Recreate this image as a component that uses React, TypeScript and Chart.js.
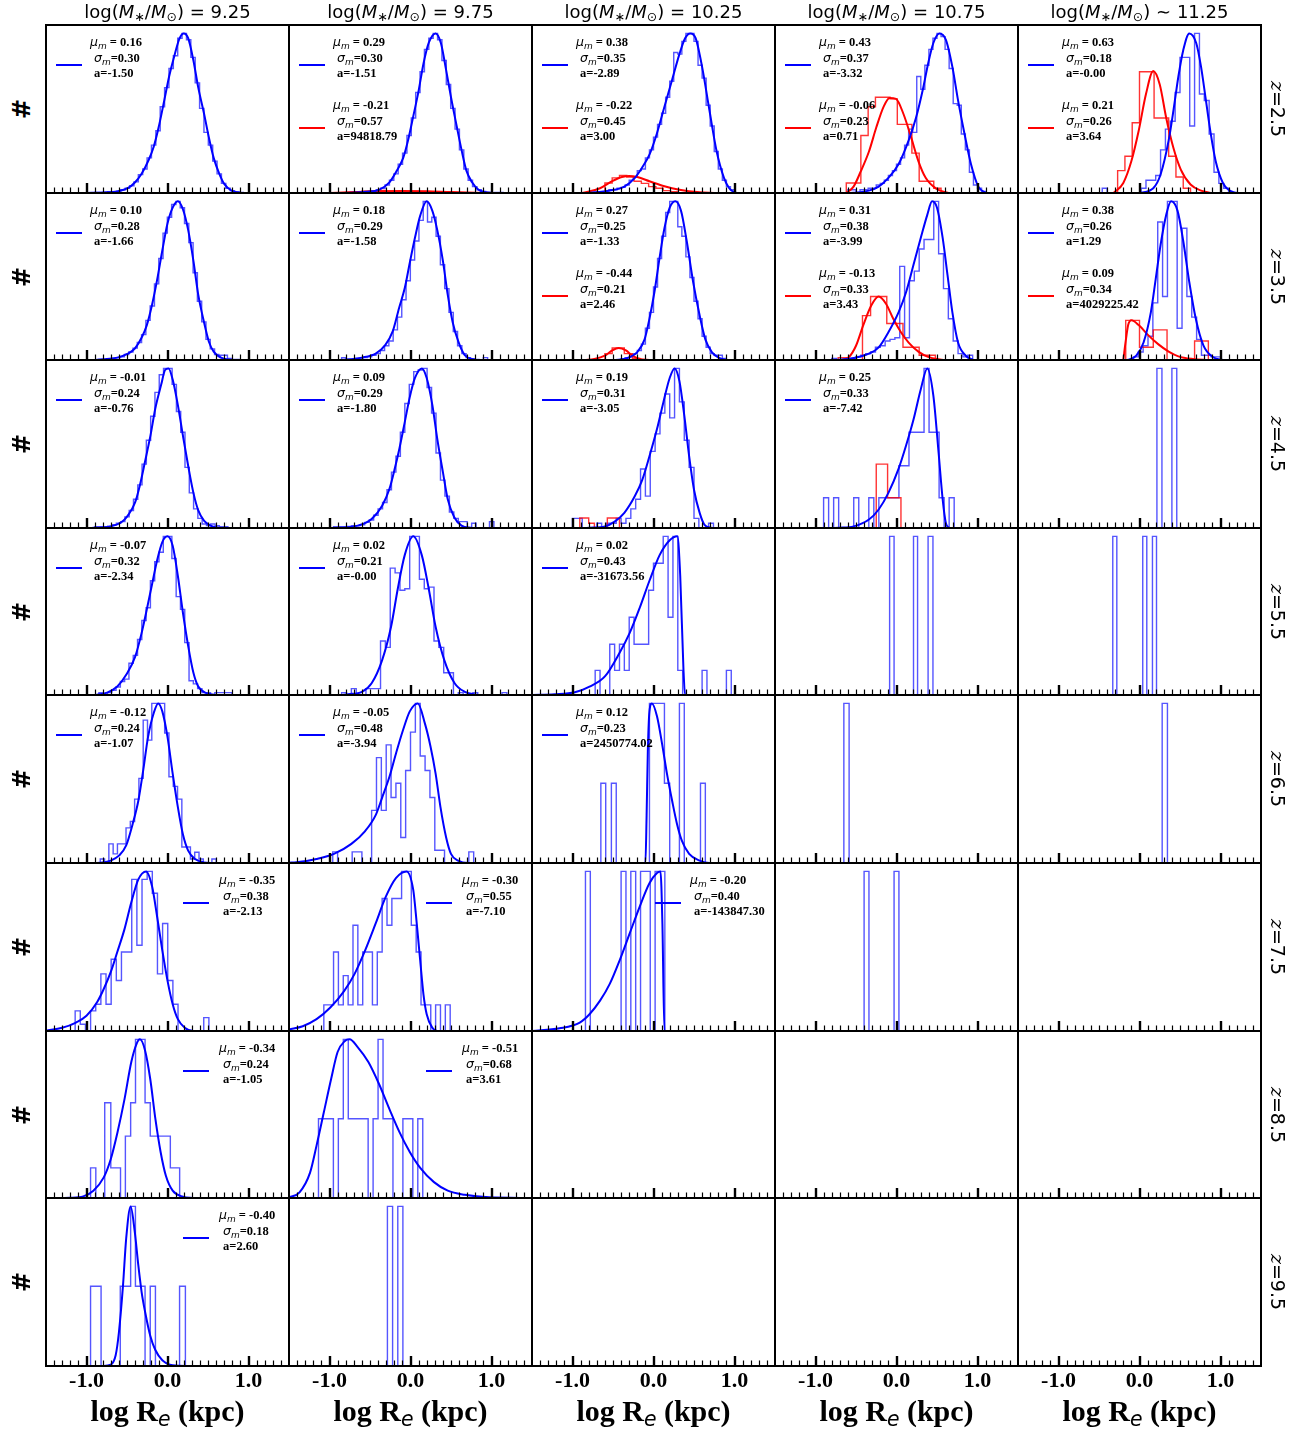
import React, { useEffect, useRef } from 'react';
import { Chart, registerables } from 'chart.js';
Chart.register(...registerables);

type Pt = [number, number];
type Hist = { x0?: number; dx?: number; edges?: number[]; n: number[] };
type Series = { hist?: Hist; fit?: Pt[]; label?: string[] };
type PanelCfg = { blue?: Series; red?: Series; side?: 'left' | 'right' | 'mid' };

// ---------- axes / labels ----------
const xMajorTicks = [-1, 0, 1];
const xMinorTicks = [-1.4, -1.3, -1.2, -1.1, -0.9, -0.8, -0.7, -0.6, -0.5, -0.4, -0.3, -0.2, -0.1, 0.1, 0.2, 0.3, 0.4, 0.5, 0.6, 0.7, 0.8, 0.9, 1.1, 1.2, 1.3, 1.4];
const xTickLabels = ['-1.0', '0.0', '1.0'];
const massBins = ['9.25', '9.75', '10.25', '10.75', '11.25'];
const massRel = ['=', '=', '=', '=', '∼'];
const redshifts = ['2.5', '3.5', '4.5', '5.5', '6.5', '7.5', '8.5', '9.5'];

// ---------- z = 2.5 ----------
const hist_r1c1: Hist = { x0: -0.9, dx: 0.054, n: [0.004, 0, 0.004, 0.008, 0.008, 0.012, 0.02, 0.03, 0.045, 0.07, 0.115, 0.15, 0.22, 0.3, 0.39, 0.54, 0.66, 0.78, 0.86, 0.97, 1.0, 0.96, 0.85, 0.69, 0.53, 0.38, 0.3, 0.2, 0.12, 0.06, 0.03, 0.015, 0.008, 0.004, 0] };
const fit_r1c1: Pt[] = [[-1.0, 0], [-0.8, 0.003], [-0.62, 0.01], [-0.49, 0.03], [-0.4, 0.067], [-0.32, 0.12], [-0.23, 0.21], [-0.17, 0.29], [-0.11, 0.41], [-0.04, 0.58], [0.02, 0.73], [0.085, 0.86], [0.15, 0.97], [0.2, 1.0], [0.255, 0.97], [0.32, 0.83], [0.38, 0.66], [0.45, 0.5], [0.51, 0.35], [0.57, 0.22], [0.64, 0.12], [0.7, 0.057], [0.79, 0.015], [0.91, 0]];
const leg_r1c1 = ['0.16', '0.30', '-1.50'];

const hist_r1c2: Hist = { x0: -0.8, dx: 0.054, n: [0.004, 0, 0.004, 0.004, 0.008, 0.01, 0.012, 0.02, 0.03, 0.05, 0.08, 0.12, 0.18, 0.25, 0.36, 0.47, 0.63, 0.76, 0.9, 0.97, 1.0, 0.96, 0.83, 0.68, 0.53, 0.4, 0.27, 0.15, 0.08, 0.04, 0.02, 0.01, 0.006, 0, 0.004, 0.004] };
const fit_r1c2: Pt[] = [[-0.9, 0], [-0.73, 0.002], [-0.55, 0.008], [-0.39, 0.02], [-0.26, 0.067], [-0.18, 0.13], [-0.09, 0.22], [-0.03, 0.33], [0.034, 0.48], [0.1, 0.64], [0.16, 0.81], [0.225, 0.94], [0.31, 1.0], [0.375, 0.94], [0.44, 0.77], [0.5, 0.6], [0.57, 0.42], [0.63, 0.27], [0.69, 0.14], [0.76, 0.067], [0.84, 0.02], [0.97, 0]];
const leg_r1c2 = ['0.29', '0.30', '-1.51'];
const histRed_r1c2: Hist = { x0: -0.7, dx: 0.1, n: [0.008, 0.012, 0.012, 0.016, 0.012, 0.012, 0.008, 0.008, 0.004, 0.004] };
const fitRed_r1c2: Pt[] = [[-1.0, 0], [-0.7, 0.006], [-0.4, 0.011], [-0.1, 0.013], [0.2, 0.011], [0.5, 0.006], [0.8, 0.002], [1.1, 0]];
const legRed_r1c2 = ['-0.21', '0.57', '94818.79'];

const hist_r1c3: Hist = { x0: -0.75, dx: 0.05, n: [0, 0.008, 0.008, 0.012, 0.02, 0.02, 0.03, 0.035, 0.05, 0.08, 0.1, 0.14, 0.15, 0.22, 0.27, 0.35, 0.43, 0.5, 0.6, 0.7, 0.88, 0.87, 0.95, 1.0, 1.0, 0.95, 0.8, 0.72, 0.55, 0.42, 0.26, 0.15, 0.08, 0.04, 0.02] };
const fit_r1c3: Pt[] = [[-0.8, 0], [-0.73, 0.004], [-0.54, 0.015], [-0.36, 0.04], [-0.23, 0.095], [-0.14, 0.16], [-0.05, 0.24], [0.04, 0.37], [0.135, 0.54], [0.23, 0.71], [0.32, 0.87], [0.39, 0.97], [0.455, 1.0], [0.52, 0.97], [0.6, 0.79], [0.69, 0.52], [0.78, 0.26], [0.87, 0.095], [0.935, 0.03], [1.0, 0.004], [1.05, 0]];
const leg_r1c3 = ['0.38', '0.35', '-2.89'];
const histRed_r1c3: Hist = { x0: -0.6, dx: 0.09, n: [0.063, 0.095, 0.11, 0.1, 0.074, 0.06, 0.04, 0.03, 0.015, 0.008] };
const fitRed_r1c3: Pt[] = [[-0.88, 0], [-0.66, 0.03], [-0.51, 0.074], [-0.39, 0.1], [-0.3, 0.107], [-0.2, 0.1], [-0.05, 0.074], [0.135, 0.042], [0.32, 0.02], [0.57, 0.004], [0.75, 0]];
const legRed_r1c3 = ['-0.22', '0.45', '3.00'];

const hist_r1c4: Hist = { x0: -0.6, dx: 0.05, n: [0.02, 0.02, 0, 0.02, 0.02, 0.03, 0.03, 0.05, 0.06, 0.08, 0.11, 0.14, 0.18, 0.22, 0.3, 0.4, 0.38, 0.73, 0.65, 0.8, 0.9, 0.97, 1.0, 0.98, 0.9, 0.78, 0.56, 0.55, 0.37, 0.27, 0.13, 0.05, 0.03, 0.01] };
const fit_r1c4: Pt[] = [[-0.6, 0], [-0.53, 0.002], [-0.34, 0.015], [-0.22, 0.04], [-0.1, 0.095], [0.025, 0.18], [0.15, 0.33], [0.24, 0.47], [0.33, 0.66], [0.39, 0.81], [0.455, 0.94], [0.53, 1.0], [0.61, 0.96], [0.69, 0.79], [0.76, 0.58], [0.84, 0.37], [0.92, 0.18], [1.01, 0.04], [1.1, 0]];
const leg_r1c4 = ['0.43', '0.37', '-3.32'];
const histRed_r1c4: Hist = { x0: -0.62, dx: 0.09, n: [0.063, 0.063, 0.36, 0.54, 0.6, 0.6, 0.59, 0.43, 0.43, 0.25, 0.074, 0.074, 0.03] };
const fitRed_r1c4: Pt[] = [[-0.62, 0], [-0.53, 0.04], [-0.44, 0.137], [-0.34, 0.26], [-0.25, 0.41], [-0.16, 0.54], [-0.086, 0.596], [-0.006, 0.59], [0.086, 0.495], [0.18, 0.35], [0.27, 0.2], [0.36, 0.095], [0.49, 0.027], [0.64, 0]];
const legRed_r1c4 = ['-0.06', '0.23', '0.71'];

const hist_r1c5: Hist = { x0: -0.46, dx: 0.06, n: [0.03, 0, 0, 0, 0, 0, 0, 0, 0.03, 0.08, 0.08, 0.11, 0.27, 0.4, 0.45, 0.63, 0.85, 0.85, 0.42, 1.0, 0.62, 0.58, 0.37, 0.13, 0.06, 0.03] };
const fit_r1c5: Pt[] = [[0.0, 0], [0.17, 0.03], [0.26, 0.116], [0.36, 0.33], [0.42, 0.52], [0.48, 0.73], [0.54, 0.895], [0.615, 1.0], [0.7, 0.94], [0.76, 0.79], [0.82, 0.58], [0.88, 0.37], [0.94, 0.2], [1.03, 0.063], [1.16, 0.005], [1.25, 0]];
const leg_r1c5 = ['0.63', '0.18', '-0.00'];
const histRed_r1c5: Hist = { x0: -0.27, dx: 0.09, n: [0.14, 0.23, 0.44, 0.76, 0.76, 0.47, 0.47, 0.23, 0.1, 0.03] };
const fitRed_r1c5: Pt[] = [[-0.32, 0], [-0.2, 0.063], [-0.1, 0.2], [-0.01, 0.39], [0.08, 0.62], [0.17, 0.764], [0.25, 0.68], [0.33, 0.47], [0.42, 0.28], [0.51, 0.147], [0.63, 0.053], [0.76, 0.015], [0.88, 0]];
const legRed_r1c5 = ['0.21', '0.26', '3.64'];

// ---------- z = 3.5 ----------
const hist_r2c1: Hist = { x0: -0.85, dx: 0.053, n: [0.004, 0.004, 0.008, 0.012, 0.015, 0.02, 0.035, 0.05, 0.075, 0.11, 0.16, 0.25, 0.34, 0.48, 0.64, 0.8, 0.9, 0.98, 1.0, 0.96, 0.86, 0.74, 0.55, 0.37, 0.24, 0.13, 0.07, 0.035, 0.03, 0.03, 0.01, 0.004, 0.004] };
const fit_r2c1: Pt[] = [[-0.9, 0], [-0.79, 0.004], [-0.62, 0.015], [-0.49, 0.04], [-0.4, 0.074], [-0.32, 0.14], [-0.255, 0.22], [-0.19, 0.35], [-0.13, 0.5], [-0.064, 0.69], [0, 0.86], [0.064, 0.96], [0.128, 1.0], [0.19, 0.95], [0.255, 0.82], [0.32, 0.625], [0.38, 0.41], [0.45, 0.24], [0.51, 0.117], [0.57, 0.053], [0.66, 0.015], [0.79, 0]];
const leg_r2c1 = ['0.10', '0.28', '-1.66'];

const hist_r2c2: Hist = { x0: -0.85, dx: 0.053, n: [0.015, 0.004, 0.004, 0.01, 0.012, 0.015, 0.02, 0.03, 0.04, 0.06, 0.09, 0.12, 0.19, 0.27, 0.38, 0.5, 0.63, 0.75, 0.88, 1.0, 0.87, 0.9, 0.78, 0.6, 0.45, 0.3, 0.18, 0.09, 0.04, 0.015, 0.008, 0.004, 0, 0.015] };
const fit_r2c2: Pt[] = [[-0.9, 0], [-0.82, 0.002], [-0.6, 0.015], [-0.43, 0.04], [-0.31, 0.095], [-0.22, 0.18], [-0.14, 0.33], [-0.07, 0.455], [-0.01, 0.61], [0.055, 0.77], [0.12, 0.91], [0.2, 1.0], [0.27, 0.94], [0.33, 0.82], [0.4, 0.625], [0.46, 0.41], [0.52, 0.24], [0.59, 0.117], [0.67, 0.03], [0.8, 0]];
const leg_r2c2 = ['0.18', '0.29', '-1.58'];

const hist_r2c3: Hist = { x0: -0.45, dx: 0.05, n: [0.004, 0.008, 0.015, 0.02, 0.04, 0.06, 0.1, 0.2, 0.3, 0.46, 0.64, 0.78, 0.93, 1.0, 1.0, 0.84, 0.78, 0.65, 0.52, 0.37, 0.26, 0.15, 0.08, 0.04, 0.03, 0.03, 0.01, 0] };
const fit_r2c3: Pt[] = [[-0.5, 0], [-0.42, 0.002], [-0.3, 0.017], [-0.2, 0.05], [-0.11, 0.13], [-0.05, 0.26], [0.012, 0.43], [0.074, 0.64], [0.135, 0.83], [0.2, 0.96], [0.27, 1.0], [0.34, 0.94], [0.41, 0.75], [0.49, 0.49], [0.57, 0.28], [0.64, 0.13], [0.72, 0.05], [0.81, 0.013], [0.9, 0]];
const leg_r2c3 = ['0.27', '0.25', '-1.33'];
const histRed_r2c3: Hist = { edges: [-0.6, -0.51, -0.43, -0.36, -0.26, -0.17], n: [0.04, 0.076, 0.076, 0.04, 0.01] };
const fitRed_r2c3: Pt[] = [[-0.85, 0], [-0.73, 0.006], [-0.6, 0.027], [-0.51, 0.06], [-0.43, 0.076], [-0.34, 0.06], [-0.26, 0.027], [-0.17, 0.006], [-0.05, 0]];
const legRed_r2c3 = ['-0.44', '0.21', '2.46'];

const hist_r2c4: Hist = { x0: -0.8, dx: 0.06, n: [0.01, 0, 0, 0.01, 0.01, 0.02, 0.03, 0.04, 0.05, 0.08, 0.09, 0.12, 0.13, 0.14, 0.59, 0.14, 0.5, 0.56, 0.7, 0.76, 0.76, 1.0, 0.67, 0.45, 0.26, 0.12, 0.04, 0.02, 0.03, 0] };
const fit_r2c4: Pt[] = [[-0.8, 0], [-0.71, 0.002], [-0.53, 0.013], [-0.34, 0.04], [-0.22, 0.08], [-0.1, 0.175], [0.025, 0.3], [0.12, 0.43], [0.21, 0.6], [0.3, 0.77], [0.38, 0.915], [0.44, 1.0], [0.5, 0.96], [0.57, 0.77], [0.63, 0.535], [0.69, 0.3], [0.76, 0.11], [0.855, 0.027], [0.95, 0]];
const leg_r2c4 = ['0.31', '0.38', '-3.99'];
const histRed_r2c4: Hist = { x0: -0.72, dx: 0.1, n: [0.015, 0, 0, 0.28, 0.4, 0.4, 0.23, 0.23, 0.08, 0.08, 0.03, 0.03] };
const fitRed_r2c4: Pt[] = [[-0.68, 0], [-0.59, 0.017], [-0.5, 0.09], [-0.41, 0.22], [-0.31, 0.345], [-0.22, 0.4], [-0.13, 0.355], [-0.04, 0.26], [0.055, 0.175], [0.15, 0.11], [0.27, 0.053], [0.39, 0.02], [0.58, 0]];
const legRed_r2c4 = ['-0.13', '0.33', '3.43'];

const hist_r2c5: Hist = { x0: -0.075, dx: 0.06, n: [0.02, 0.05, 0.09, 0.15, 0.36, 0.87, 0.4, 1.0, 1.0, 0.2, 0.83, 0.4, 0.27, 0.13, 0.03, 0.03, 0.02, 0.02] };
const fit_r2c5: Pt[] = [[-0.2, 0], [-0.135, 0.002], [-0.04, 0.027], [0.05, 0.11], [0.14, 0.3], [0.2, 0.51], [0.26, 0.725], [0.33, 0.915], [0.39, 1.0], [0.47, 0.94], [0.54, 0.75], [0.615, 0.49], [0.695, 0.26], [0.79, 0.09], [0.91, 0.017], [1.03, 0]];
const leg_r2c5 = ['0.38', '0.26', '1.29'];
const histRed_r2c5: Hist = { x0: -0.17, dx: 0.17, n: [0.25, 0.08, 0.19, 0, 0, 0.12] };
const fitRed_r2c5: Pt[] = [[-0.2, 0], [-0.17, 0.12], [-0.14, 0.22], [-0.1, 0.25], [-0.01, 0.22], [0.11, 0.155], [0.23, 0.1], [0.36, 0.053], [0.48, 0.023], [0.66, 0.006], [0.85, 0]];
const legRed_r2c5 = ['0.09', '0.34', '4029225.42'];

// ---------- z = 4.5 ----------
const hist_r3c1: Hist = { x0: -0.95, dx: 0.053, n: [0, 0.008, 0.008, 0.008, 0.012, 0.02, 0.03, 0.04, 0.07, 0.11, 0.18, 0.27, 0.4, 0.55, 0.7, 0.85, 0.96, 1.0, 1.0, 0.9, 0.73, 0.6, 0.38, 0.22, 0.12, 0.06, 0.025, 0.015, 0.025, 0.015, 0.008, 0.008] };
const fit_r3c1: Pt[] = [[-0.95, 0], [-0.91, 0.001], [-0.7, 0.01], [-0.57, 0.036], [-0.49, 0.078], [-0.4, 0.16], [-0.34, 0.27], [-0.28, 0.41], [-0.21, 0.58], [-0.15, 0.75], [-0.077, 0.9], [-0.03, 0.99], [0.013, 1.0], [0.064, 0.93], [0.128, 0.77], [0.19, 0.58], [0.255, 0.39], [0.32, 0.22], [0.38, 0.11], [0.45, 0.046], [0.53, 0.015], [0.66, 0]];
const leg_r3c1 = ['-0.01', '0.24', '-0.76'];

const hist_r3c2: Hist = { x0: -0.95, dx: 0.055, n: [0.008, 0.008, 0.008, 0.01, 0.015, 0.015, 0.02, 0.035, 0.05, 0.08, 0.12, 0.16, 0.24, 0.35, 0.45, 0.6, 0.78, 0.9, 0.98, 0.99, 1.0, 0.88, 0.72, 0.47, 0.3, 0.2, 0.1, 0.06, 0.04, 0.04, 0, 0.03, 0, 0, 0, 0.04] };
const fit_r3c2: Pt[] = [[-0.95, 0], [-0.86, 0.002], [-0.65, 0.015], [-0.48, 0.057], [-0.35, 0.14], [-0.26, 0.245], [-0.2, 0.36], [-0.136, 0.5], [-0.072, 0.66], [-0.009, 0.82], [0.055, 0.94], [0.14, 1.0], [0.2, 0.94], [0.27, 0.77], [0.33, 0.56], [0.4, 0.35], [0.46, 0.18], [0.54, 0.067], [0.63, 0.015], [0.76, 0]];
const leg_r3c2 = ['0.09', '0.29', '-1.80'];

const hist_r3c3: Hist = { x0: -1.0, dx: 0.06, n: [0.06, 0.06, 0, 0, 0, 0.03, 0, 0.03, 0.03, 0.06, 0.03, 0.06, 0.12, 0.18, 0.37, 0.2, 0.48, 0.59, 0.72, 0.84, 0.69, 1.0, 0.79, 0.55, 0.38, 0.06, 0, 0, 0.03] };
const fit_r3c3: Pt[] = [[-0.85, 0], [-0.79, 0.002], [-0.6, 0.01], [-0.48, 0.04], [-0.36, 0.095], [-0.23, 0.2], [-0.14, 0.3], [-0.05, 0.45], [0.043, 0.62], [0.123, 0.79], [0.2, 0.94], [0.26, 1.0], [0.32, 0.92], [0.38, 0.705], [0.44, 0.45], [0.5, 0.24], [0.57, 0.095], [0.63, 0.02], [0.72, 0]];
const leg_r3c3 = ['0.19', '0.31', '-3.05'];
const histRed_r3c3: Hist = { edges: [-0.91, -0.8, -0.73, -0.57, -0.42], n: [0.063, 0.03, 0, 0.063] };

const hist_r3c4: Hist = { x0: -0.9, dx: 0.062, n: [0.19, 0, 0.19, 0, 0, 0, 0.19, 0, 0, 0.19, 0, 0.19, 0.19, 0.19, 0.19, 0.39, 0.39, 0.6, 0.6, 0.6, 1.0, 0.6, 0.6, 0.19, 0, 0.19] };
const fit_r3c4: Pt[] = [[-0.8, 0], [-0.71, 0.002], [-0.53, 0.01], [-0.34, 0.053], [-0.22, 0.116], [-0.1, 0.22], [0.025, 0.37], [0.12, 0.52], [0.21, 0.68], [0.3, 0.87], [0.38, 1.0], [0.455, 0.83], [0.52, 0.47], [0.57, 0.18], [0.61, 0.03], [0.65, 0]];
const leg_r3c4 = ['0.25', '0.33', '-7.42'];
const histRed_r3c4: Hist = { edges: [-0.25, -0.11, 0.055], n: [0.4, 0.19] };

const hist_r3c5: Hist = { edges: [0.215, 0.277, 0.4, 0.46], n: [1, 0, 1] };

// ---------- z = 5.5 ----------
const hist_r4c1: Hist = { x0: -0.9, dx: 0.053, n: [0, 0.015, 0, 0.015, 0.03, 0.05, 0.085, 0.1, 0.2, 0.25, 0.35, 0.47, 0.55, 0.72, 0.84, 0.9, 1.0, 1.0, 0.86, 0.62, 0.54, 0.33, 0.09, 0.07, 0.04, 0.015, 0.015, 0, 0.015, 0.015, 0.015, 0.015, 0, 0] };
const fit_r4c1: Pt[] = [[-0.95, 0], [-0.87, 0.002], [-0.745, 0.015], [-0.62, 0.053], [-0.51, 0.127], [-0.4, 0.24], [-0.32, 0.39], [-0.255, 0.54], [-0.19, 0.7], [-0.128, 0.85], [-0.064, 0.964], [0, 1.0], [0.064, 0.94], [0.128, 0.75], [0.19, 0.52], [0.255, 0.31], [0.32, 0.14], [0.38, 0.053], [0.49, 0.01], [0.62, 0]];
const leg_r4c1 = ['-0.07', '0.32', '-2.34'];

const hist_r4c2: Hist = { x0: -0.85, dx: 0.06, n: [0.015, 0, 0.04, 0, 0, 0.04, 0.04, 0.04, 0.34, 0.3, 0.8, 0.77, 0.66, 0.67, 1.0, 1.0, 0.73, 0.67, 0.68, 0.34, 0.3, 0.14, 0.14, 0, 0.015, 0, 0, 0.015, 0, 0, 0, 0, 0, 0.015] };
const fit_r4c2: Pt[] = [[-0.85, 0], [-0.77, 0.005], [-0.6, 0.02], [-0.48, 0.074], [-0.35, 0.22], [-0.24, 0.43], [-0.157, 0.67], [-0.072, 0.88], [0.034, 1.0], [0.14, 0.88], [0.225, 0.67], [0.31, 0.43], [0.417, 0.22], [0.545, 0.074], [0.67, 0.02], [0.84, 0]];
const leg_r4c2 = ['0.02', '0.21', '-0.00'];

const hist_r4c3: Hist = { x0: -0.72, dx: 0.06, n: [0.155, 0, 0, 0.32, 0.155, 0.32, 0.155, 0.49, 0.32, 0.32, 0.32, 0.66, 0.83, 0.83, 1.0, 0.49, 1.0, 0.155, 0, 0, 0, 0, 0.155, 0, 0, 0, 0, 0.155] };
const fit_r4c3: Pt[] = [[-1.5, 0], [-1.22, 0.004], [-0.97, 0.017], [-0.79, 0.053], [-0.6, 0.117], [-0.42, 0.265], [-0.295, 0.39], [-0.17, 0.55], [-0.05, 0.72], [0.074, 0.88], [0.2, 0.975], [0.295, 1.0], [0.33, 0.75], [0.37, 0.16], [0.39, 0], [0.5, 0]];
const leg_r4c3 = ['0.02', '0.43', '-31673.56'];

const hist_r4c4: Hist = { edges: [-0.085, -0.03, 0.21, 0.26, 0.39, 0.45], n: [1, 0, 1, 0, 1] };
const hist_r4c5: Hist = { edges: [-0.33, -0.28, 0.04, 0.09, 0.16, 0.21], n: [1, 0, 1, 0, 1] };

// ---------- z = 6.5 ----------
const hist_r5c1: Hist = { x0: -0.83, dx: 0.053, n: [0.025, 0, 0.12, 0.057, 0.12, 0.12, 0.22, 0.26, 0.4, 0.53, 0.895, 0.77, 1.0, 1.0, 1.0, 0.815, 0.54, 0.48, 0.4, 0.1, 0.1, 0.025, 0.067, 0.025, 0, 0, 0.025] };
const fit_r5c1: Pt[] = [[-0.9, 0], [-0.83, 0.001], [-0.7, 0.015], [-0.6, 0.046], [-0.51, 0.11], [-0.43, 0.245], [-0.36, 0.39], [-0.3, 0.58], [-0.24, 0.79], [-0.17, 0.94], [-0.115, 1.0], [-0.064, 0.95], [0, 0.79], [0.064, 0.56], [0.128, 0.35], [0.19, 0.18], [0.255, 0.078], [0.34, 0.025], [0.447, 0.004], [0.57, 0]];
const leg_r5c1 = ['-0.12', '0.24', '-1.07'];

const hist_r5c2: Hist = { x0: -0.96, dx: 0.06, n: [0.07, 0, 0, 0, 0.07, 0.07, 0, 0, 0.33, 0.66, 0.33, 0.74, 0.41, 0.5, 0.16, 0.58, 0.82, 1.0, 0.67, 0.58, 0.41, 0.08, 0.08, 0, 0, 0, 0, 0, 0.07] };
const fit_r5c2: Pt[] = [[-1.5, 0.002], [-1.41, 0.004], [-1.16, 0.025], [-0.945, 0.057], [-0.73, 0.12], [-0.56, 0.2], [-0.43, 0.3], [-0.35, 0.41], [-0.26, 0.54], [-0.18, 0.685], [-0.094, 0.83], [-0.009, 0.95], [0.09, 1.0], [0.18, 0.87], [0.247, 0.73], [0.31, 0.56], [0.37, 0.35], [0.44, 0.16], [0.5, 0.057], [0.587, 0.015], [0.715, 0], [1.0, 0]];
const leg_r5c2 = ['-0.05', '0.48', '-3.94'];

const hist_r5c3: Hist = { edges: [-0.65, -0.59, -0.52, -0.46, -0.05, 0.135, 0.2, 0.32, 0.38, 0.58, 0.64], n: [0.5, 0, 0.5, 0, 1.0, 0.5, 0, 1.0, 0, 0.5] };
const fit_r5c3: Pt[] = [[-1.5, 0], [-0.1, 0], [-0.085, 0.3], [-0.07, 0.7], [-0.05, 0.95], [-0.02, 1.0], [0.043, 0.92], [0.105, 0.75], [0.166, 0.56], [0.23, 0.39], [0.29, 0.245], [0.35, 0.14], [0.44, 0.057], [0.57, 0.015], [0.69, 0], [1.5, 0]];
const leg_r5c3 = ['0.12', '0.23', '2450774.02'];

const hist_r5c4: Hist = { edges: [-0.65, -0.585], n: [1] };
const hist_r5c5: Hist = { edges: [0.28, 0.345], n: [1] };

// ---------- z = 7.5 ----------
const hist_r6c1: Hist = { x0: -1.14, dx: 0.0635, n: [0.126, 0.042, 0, 0.126, 0.168, 0.358, 0.168, 0.45, 0.316, 0.495, 0.495, 0.95, 0.537, 0.95, 1.0, 0.863, 0.358, 0.674, 0.316, 0.168, 0, 0, 0, 0, 0, 0.084] };
const fit_r6c1: Pt[] = [[-1.5, 0.002], [-1.3, 0.02], [-1.13, 0.053], [-1.0, 0.095], [-0.87, 0.18], [-0.79, 0.26], [-0.7, 0.37], [-0.62, 0.495], [-0.53, 0.64], [-0.45, 0.8], [-0.36, 0.95], [-0.264, 1.0], [-0.19, 0.905], [-0.128, 0.716], [-0.064, 0.505], [0, 0.316], [0.064, 0.168], [0.128, 0.074], [0.213, 0.02], [0.32, 0], [1.5, 0]];
const leg_r6c1 = ['-0.35', '0.38', '-2.13'];

const hist_r6c2: Hist = { x0: -1.07, dx: 0.06, n: [0.164, 0.164, 0.495, 0.164, 0.347, 0.164, 0.663, 0.164, 0.495, 0.495, 0.164, 0.495, 0.83, 0.663, 0.83, 0.83, 1.0, 1.0, 0.663, 0.495, 0.164, 0.164, 0, 0.164, 0, 0.164] };
const fit_r6c2: Pt[] = [[-1.5, 0.01], [-1.33, 0.03], [-1.16, 0.074], [-0.99, 0.147], [-0.82, 0.25], [-0.69, 0.358], [-0.56, 0.505], [-0.43, 0.674], [-0.306, 0.84], [-0.18, 0.958], [-0.05, 1.0], [0.034, 0.884], [0.077, 0.674], [0.12, 0.44], [0.16, 0.23], [0.2, 0.105], [0.27, 0.02], [0.33, 0], [1.5, 0]];
const leg_r6c2 = ['-0.30', '0.55', '-7.10'];

const hist_r6c3: Hist = { edges: [-0.84, -0.78, -0.4, -0.34, -0.28, -0.22, -0.16, -0.04, 0.02, 0.08, 0.14], n: [1, 0, 1, 0, 1, 0, 1, 0, 1, 1] };
const fit_r6c3: Pt[] = [[-1.5, 0], [-1.16, 0.017], [-0.91, 0.053], [-0.79, 0.105], [-0.66, 0.19], [-0.54, 0.295], [-0.42, 0.44], [-0.295, 0.61], [-0.17, 0.78], [-0.05, 0.926], [0.043, 0.99], [0.086, 1.0], [0.11, 0.67], [0.135, 0], [1.5, 0]];
const leg_r6c3 = ['-0.20', '0.40', '-143847.30'];

const hist_r6c4: Hist = { edges: [-0.4, -0.34, -0.03, 0.03], n: [1, 0, 1] };

// ---------- z = 8.5 ----------
const hist_r7c1: Hist = { edges: [-0.95, -0.885, -0.775, -0.7, -0.58, -0.52, -0.455, -0.395, -0.277, -0.213, -0.15, 0.035, 0.15], n: [0.19, 0, 0.6, 0.19, 0, 0.39, 0.6, 1.0, 0.6, 0.39, 0.39, 0.19] };
const fit_r7c1: Pt[] = [[-1.3, 0], [-1.21, 0.001], [-1.04, 0.01], [-0.915, 0.046], [-0.787, 0.13], [-0.7, 0.246], [-0.617, 0.415], [-0.53, 0.625], [-0.447, 0.857], [-0.383, 0.97], [-0.34, 1.0], [-0.277, 0.93], [-0.213, 0.75], [-0.15, 0.5], [-0.085, 0.29], [-0.02, 0.14], [0.064, 0.046], [0.19, 0.008], [0.32, 0]];
const leg_r7c1 = ['-0.34', '0.24', '-1.05'];

const hist_r7c2: Hist = { x0: -1.136, dx: 0.0613, n: [0.5, 0.5, 0.5, 0, 0.5, 1.0, 0.5, 0.5, 0.5, 0.5, 0, 0.5, 1.0, 0.5, 0.5, 0, 0, 0.5, 0.5, 0, 0.5] };
const fit_r7c2: Pt[] = [[-1.5, 0.003], [-1.37, 0.036], [-1.24, 0.16], [-1.16, 0.33], [-1.07, 0.54], [-0.98, 0.75], [-0.9, 0.92], [-0.81, 0.99], [-0.753, 1.0], [-0.65, 0.95], [-0.52, 0.857], [-0.39, 0.72], [-0.26, 0.56], [-0.136, 0.415], [-0.009, 0.29], [0.12, 0.19], [0.29, 0.1], [0.46, 0.046], [0.67, 0.02], [0.97, 0.004], [1.5, 0]];
const leg_r7c2 = ['-0.51', '0.68', '3.61'];

// ---------- z = 9.5 ----------
const hist_r8c1: Hist = { edges: [-0.95, -0.82, -0.583, -0.455, -0.396, -0.277, -0.213, -0.149, 0.149, 0.221], n: [0.5, 0, 0.5, 1.0, 0.5, 0, 0.5, 0, 0.5] };
const fit_r8c1: Pt[] = [[-1.5, 0], [-0.787, 0], [-0.7, 0.008], [-0.64, 0.067], [-0.6, 0.21], [-0.55, 0.5], [-0.51, 0.8], [-0.455, 1.0], [-0.404, 0.84], [-0.36, 0.63], [-0.32, 0.465], [-0.277, 0.34], [-0.213, 0.19], [-0.15, 0.1], [-0.064, 0.036], [0.064, 0.004], [0.23, 0], [1.5, 0]];
const leg_r8c1 = ['-0.40', '0.18', '2.60'];

const hist_r8c2: Hist = { edges: [-0.285, -0.221, -0.157, -0.094], n: [1, 0, 1] };

// ---------- panel table ----------
const panelData: Record<string, PanelCfg> = {
  '0,0': { blue: { hist: hist_r1c1, fit: fit_r1c1, label: leg_r1c1 } },
  '0,1': { blue: { hist: hist_r1c2, fit: fit_r1c2, label: leg_r1c2 }, red: { hist: histRed_r1c2, fit: fitRed_r1c2, label: legRed_r1c2 } },
  '0,2': { blue: { hist: hist_r1c3, fit: fit_r1c3, label: leg_r1c3 }, red: { hist: histRed_r1c3, fit: fitRed_r1c3, label: legRed_r1c3 } },
  '0,3': { blue: { hist: hist_r1c4, fit: fit_r1c4, label: leg_r1c4 }, red: { hist: histRed_r1c4, fit: fitRed_r1c4, label: legRed_r1c4 } },
  '0,4': { blue: { hist: hist_r1c5, fit: fit_r1c5, label: leg_r1c5 }, red: { hist: histRed_r1c5, fit: fitRed_r1c5, label: legRed_r1c5 } },
  '1,0': { blue: { hist: hist_r2c1, fit: fit_r2c1, label: leg_r2c1 } },
  '1,1': { blue: { hist: hist_r2c2, fit: fit_r2c2, label: leg_r2c2 } },
  '1,2': { blue: { hist: hist_r2c3, fit: fit_r2c3, label: leg_r2c3 }, red: { hist: histRed_r2c3, fit: fitRed_r2c3, label: legRed_r2c3 } },
  '1,3': { blue: { hist: hist_r2c4, fit: fit_r2c4, label: leg_r2c4 }, red: { hist: histRed_r2c4, fit: fitRed_r2c4, label: legRed_r2c4 } },
  '1,4': { blue: { hist: hist_r2c5, fit: fit_r2c5, label: leg_r2c5 }, red: { hist: histRed_r2c5, fit: fitRed_r2c5, label: legRed_r2c5 } },
  '2,0': { blue: { hist: hist_r3c1, fit: fit_r3c1, label: leg_r3c1 } },
  '2,1': { blue: { hist: hist_r3c2, fit: fit_r3c2, label: leg_r3c2 } },
  '2,2': { blue: { hist: hist_r3c3, fit: fit_r3c3, label: leg_r3c3 }, red: { hist: histRed_r3c3 } },
  '2,3': { blue: { hist: hist_r3c4, fit: fit_r3c4, label: leg_r3c4 }, red: { hist: histRed_r3c4 } },
  '2,4': { blue: { hist: hist_r3c5 } },
  '3,0': { blue: { hist: hist_r4c1, fit: fit_r4c1, label: leg_r4c1 } },
  '3,1': { blue: { hist: hist_r4c2, fit: fit_r4c2, label: leg_r4c2 } },
  '3,2': { blue: { hist: hist_r4c3, fit: fit_r4c3, label: leg_r4c3 } },
  '3,3': { blue: { hist: hist_r4c4 } },
  '3,4': { blue: { hist: hist_r4c5 } },
  '4,0': { blue: { hist: hist_r5c1, fit: fit_r5c1, label: leg_r5c1 } },
  '4,1': { blue: { hist: hist_r5c2, fit: fit_r5c2, label: leg_r5c2 } },
  '4,2': { blue: { hist: hist_r5c3, fit: fit_r5c3, label: leg_r5c3 } },
  '4,3': { blue: { hist: hist_r5c4 } },
  '4,4': { blue: { hist: hist_r5c5 } },
  '5,0': { blue: { hist: hist_r6c1, fit: fit_r6c1, label: leg_r6c1 }, side: 'right' },
  '5,1': { blue: { hist: hist_r6c2, fit: fit_r6c2, label: leg_r6c2 }, side: 'right' },
  '5,2': { blue: { hist: hist_r6c3, fit: fit_r6c3, label: leg_r6c3 }, side: 'mid' },
  '5,3': { blue: { hist: hist_r6c4 } },
  '6,0': { blue: { hist: hist_r7c1, fit: fit_r7c1, label: leg_r7c1 }, side: 'right' },
  '6,1': { blue: { hist: hist_r7c2, fit: fit_r7c2, label: leg_r7c2 }, side: 'right' },
  '7,0': { blue: { hist: hist_r8c1, fit: fit_r8c1, label: leg_r8c1 }, side: 'right' },
  '7,1': { blue: { hist: hist_r8c2 } },
};

// ---------- layout ----------
const COL_LEFT = 46;
const COL_W = 243;
const ROW_TOP = 25;
const ROW_H = 167.6;
const NROWS = 8;
const NCOLS = 5;
const X_MIN = -1.5;
const X_MAX = 1.5;
const Y_MAX = 1 / 0.95;

const SERIF = "'Liberation Serif','Times New Roman',serif";
const SANS = "'DejaVu Sans','Liberation Sans',sans-serif";

function histPoints(h: Hist) {
  const edges = h.edges ?? h.n.map((_, i) => (h.x0 as number) + i * (h.dx as number)).concat([(h.x0 as number) + h.n.length * (h.dx as number)]);
  const pts: { x: number; y: number }[] = [{ x: edges[0], y: 0 }];
  h.n.forEach((v, i) => {
    pts.push({ x: edges[i], y: v });
    pts.push({ x: edges[i + 1], y: v });
  });
  pts.push({ x: edges[edges.length - 1], y: 0 });
  return pts;
}

const framePlugin = {
  id: 'panelFrame',
  afterDatasetsDraw(chart: any) {
    const { ctx, chartArea, scales } = chart;
    const xs = scales.x;
    const { left, right, top, bottom } = chartArea;
    ctx.save();
    ctx.strokeStyle = '#000';
    ctx.lineWidth = 1.2;
    ctx.beginPath();
    for (const v of xMinorTicks) {
      const px = Math.round(xs.getPixelForValue(v)) + 0.5;
      ctx.moveTo(px, bottom);
      ctx.lineTo(px, bottom - 5.5);
    }
    ctx.stroke();
    ctx.lineWidth = 2.4;
    ctx.beginPath();
    for (const v of xMajorTicks) {
      const px = Math.round(xs.getPixelForValue(v));
      ctx.moveTo(px, bottom);
      ctx.lineTo(px, bottom - 10);
    }
    ctx.stroke();
    ctx.lineWidth = 2;
    ctx.strokeRect(left, top, right - left, bottom - top);
    ctx.restore();
  },
};

function Panel({ cfg, left, top, w, h }: { cfg?: PanelCfg; left: number; top: number; w: number; h: number }) {
  const ref = useRef<HTMLCanvasElement>(null);
  useEffect(() => {
    if (!ref.current) return;
    const datasets: any[] = [];
    const fitDs = (pts: Pt[], color: string) => ({
      data: pts.map(([x, y]) => ({ x, y })),
      borderColor: color,
      borderWidth: 2,
      pointRadius: 0,
      fill: false,
      cubicInterpolationMode: 'monotone',
    });
    const histDs = (hh: Hist, color: string) => ({
      data: histPoints(hh),
      borderColor: color,
      borderWidth: 1.4,
      pointRadius: 0,
      fill: false,
      tension: 0,
    });
    if (cfg?.blue?.fit) datasets.push(fitDs(cfg.blue.fit, '#0000ff'));
    if (cfg?.red?.fit) datasets.push(fitDs(cfg.red.fit, '#ff0000'));
    if (cfg?.red?.hist) datasets.push(histDs(cfg.red.hist, 'rgba(255,0,0,0.8)'));
    if (cfg?.blue?.hist) datasets.push(histDs(cfg.blue.hist, 'rgba(20,20,255,0.72)'));
    const chart = new Chart(ref.current, {
      type: 'line',
      data: { datasets },
      options: {
        animation: false,
        responsive: false,
        devicePixelRatio: 1,
        events: [],
        layout: { padding: 1 },
        plugins: { legend: { display: false }, tooltip: { enabled: false } },
        scales: {
          x: { type: 'linear', min: X_MIN, max: X_MAX, display: false },
          y: { type: 'linear', min: 0, max: Y_MAX, display: false },
        },
      } as any,
      plugins: [framePlugin],
    });
    return () => chart.destroy();
  }, [cfg]);
  return <canvas ref={ref} width={w} height={h} style={{ position: 'absolute', left, top, width: w, height: h }} />;
}

const txtBase: React.CSSProperties = {
  position: 'absolute',
  fontFamily: SERIF,
  fontWeight: 700,
  fontSize: 12.5,
  lineHeight: '14px',
  whiteSpace: 'nowrap',
  color: '#000',
};

function Sym({ ch }: { ch: string }) {
  return (
    <span style={{ fontFamily: SANS, fontStyle: 'italic', fontWeight: 400 }}>
      {ch}
      <span style={{ fontSize: '0.72em', position: 'relative', top: '0.28em' }}>m</span>
    </span>
  );
}

function LegendBlock({ lx, tx, top, color, vals }: { lx: number; tx: number; top: number; color: string; vals: string[] }) {
  return (
    <>
      <div style={{ position: 'absolute', left: lx, top: top + 21, width: 26, height: 2, background: color }} />
      <div style={{ ...txtBase, left: tx - 3, top: top - 8 }}>
        <Sym ch="μ" /> = {vals[0]}
      </div>
      <div style={{ ...txtBase, left: tx + 1, top: top + 8 }}>
        <Sym ch="σ" />={vals[1]}
      </div>
      <div style={{ ...txtBase, left: tx + 1, top: top + 23 }}>a={vals[2]}</div>
    </>
  );
}

export default function App() {
  useEffect(() => {
    document.body.style.margin = '0';
  }, []);
  const rowTops = Array.from({ length: NROWS + 1 }, (_, i) => Math.round(ROW_TOP + i * ROW_H));
  const items: React.ReactNode[] = [];
  const overlays: React.ReactNode[] = [];
  for (let r = 0; r < NROWS; r++) {
    for (let c = 0; c < NCOLS; c++) {
      const L = COL_LEFT + c * COL_W;
      const T = rowTops[r];
      const hgt = rowTops[r + 1] - rowTops[r] + 2;
      const cfg = panelData[`${r},${c}`];
      items.push(<Panel key={`p${r}-${c}`} cfg={cfg} left={L - 1} top={T - 1} w={COL_W + 2} h={hgt} />);
      if (cfg?.blue?.label) {
        const side = cfg.side ?? 'left';
        const lx = side === 'left' ? L + 10 : side === 'right' ? L + 137 : L + 123;
        const tx = side === 'left' ? L + 47 : side === 'right' ? L + 176 : L + 161;
        overlays.push(<LegendBlock key={`lb${r}-${c}`} lx={lx} tx={tx} top={T + 18} color="#0000ff" vals={cfg.blue.label} />);
        if (cfg.red?.label) {
          overlays.push(<LegendBlock key={`lr${r}-${c}`} lx={lx} tx={tx} top={T + 81} color="#ff0000" vals={cfg.red.label} />);
        }
      }
    }
  }
  return (
    <div style={{ position: 'absolute', left: 0, top: 0, width: 1311, height: 1431, background: '#fff', overflow: 'hidden' }}>
      {items}
      {overlays}
      {massBins.map((m, c) => (
        <div
          key={`t${c}`}
          style={{ position: 'absolute', left: COL_LEFT + c * COL_W, width: COL_W, top: 0, lineHeight: '24px', textAlign: 'center', fontFamily: SANS, fontSize: 18, whiteSpace: 'nowrap' }}
        >
          log(<i>M</i>
          <span style={{ fontSize: '0.7em', position: 'relative', top: '0.25em' }}>∗</span>/<i>M</i>
          <span style={{ fontSize: '0.7em', position: 'relative', top: '0.25em' }}>⊙</span>) {massRel[c]} {m}
        </div>
      ))}
      {redshifts.map((z, r) => {
        const cy = (rowTops[r] + rowTops[r + 1]) / 2;
        return (
          <React.Fragment key={`z${r}`}>
            <div
              style={{ position: 'absolute', left: 1278 - 60, top: cy - 13, width: 120, height: 26, lineHeight: '26px', textAlign: 'center', fontFamily: SANS, fontSize: 19, transform: 'rotate(90deg)', whiteSpace: 'nowrap' }}
            >
              <i style={{ fontFamily: "'DejaVu Serif',serif" }}>z</i>=
              {z}
            </div>
            <div
              style={{ position: 'absolute', left: 22 - 20, top: cy - 16, width: 40, height: 32, lineHeight: '32px', textAlign: 'center', fontFamily: SANS, fontWeight: 700, fontSize: 24, transform: 'rotate(-90deg)' }}
            >
              #
            </div>
          </React.Fragment>
        );
      })}
      {massBins.map((_, c) =>
        xMajorTicks.map((v, k) => (
          <div
            key={`xl${c}-${k}`}
            style={{ position: 'absolute', left: COL_LEFT + c * COL_W + ((v - X_MIN) / (X_MAX - X_MIN)) * COL_W - 30, width: 60, top: 1368, lineHeight: '24px', textAlign: 'center', fontFamily: SERIF, fontWeight: 700, fontSize: 22 }}
          >
            {xTickLabels[k]}
          </div>
        ))
      )}
      {massBins.map((_, c) => (
        <div
          key={`xa${c}`}
          style={{ position: 'absolute', left: COL_LEFT + c * COL_W, width: COL_W, top: 1393, lineHeight: '36px', textAlign: 'center', fontFamily: SERIF, fontWeight: 700, fontSize: 30, whiteSpace: 'nowrap' }}
        >
          log R
          <span style={{ fontFamily: SANS, fontStyle: 'italic', fontWeight: 400, fontSize: '0.68em', position: 'relative', top: '0.25em' }}>e</span> (kpc)
        </div>
      ))}
    </div>
  );
}
